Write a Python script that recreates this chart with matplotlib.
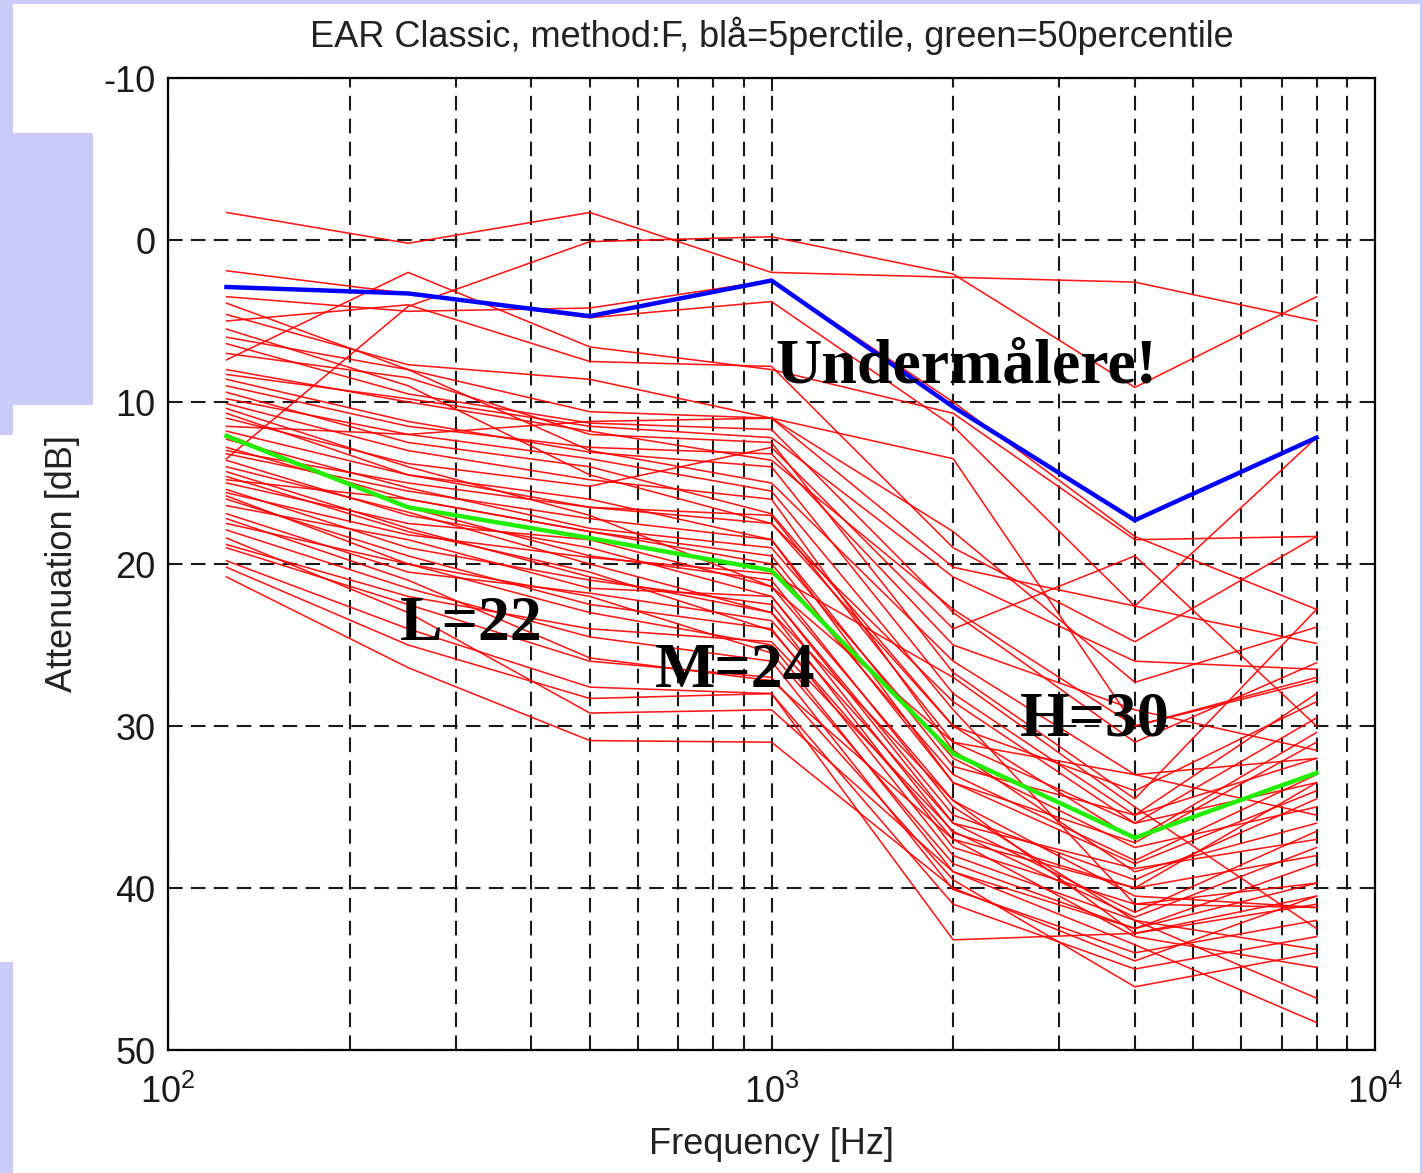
import matplotlib
matplotlib.use("Agg")
import matplotlib.pyplot as plt
from matplotlib.patches import Rectangle

plt.rcParams["axes.unicode_minus"] = False

# frekvenser (Hz)
freqs = [125, 250, 500, 1000, 2000, 4000, 8000]

# demping for hver forsøksperson, dB (rød)
subjects = [
    [-1.7, 0.2, -1.7, 2.0, 2.3, 2.6, 5.0],
    [13.5, 4.1, 0.1, -0.2, 2.1, 9.1, 3.5],
    [7.4, 2.0, 6.6, 8.0, 10.7, 18.5, 18.3],
    [1.9, 3.3, 4.8, 3.8, 11.5, 22.6, 12.2],
    [3.5, 4.4, 4.2, 2.5, 10.0, 18.3, 22.8],
    [5.0, 4.0, 7.5, 7.8, 19.0, 24.8, 18.3],
    [4.6, 7.7, 8.6, 11.0, 20.2, 22.6, 24.9],
    [6.0, 8.0, 10.6, 11.0, 18.0, 27.3, 23.9],
    [6.4, 9.5, 11.3, 11.7, 23.0, 31.0, 26.1],
    [7.0, 8.5, 12.0, 12.5, 26.7, 34.5, 22.8],
    [8.0, 10.0, 11.8, 13.6, 22.8, 30.0, 27.2],
    [8.6, 11.2, 13.1, 14.0, 28.0, 35.5, 28.0],
    [9.4, 12.5, 14.0, 16.9, 30.0, 37.0, 30.4],
    [10.1, 13.0, 14.8, 16.0, 31.5, 39.0, 36.0],
    [10.7, 14.5, 16.0, 18.5, 33.5, 38.5, 34.0],
    [11.5, 12.0, 13.5, 15.5, 29.0, 41.0, 39.7],
    [9.0, 11.5, 12.8, 13.2, 25.0, 29.0, 31.5],
    [3.9, 8.0, 13.0, 15.0, 26.0, 33.0, 32.0],
    [5.5, 9.0, 14.5, 17.5, 28.5, 36.0, 33.5],
    [8.3, 9.8, 11.5, 12.2, 20.8, 26.0, 26.5],
    [10.4, 14.0, 17.0, 21.4, 34.6, 40.5, 41.2],
    [12.3, 15.3, 17.8, 19.0, 32.0, 37.5, 35.0],
    [12.0, 16.5, 19.5, 21.0, 35.0, 42.0, 43.8],
    [12.8, 16.0, 18.0, 20.0, 33.0, 38.3, 33.0],
    [13.6, 17.0, 19.0, 22.0, 36.0, 41.5, 36.5],
    [14.0, 16.8, 20.0, 23.0, 34.6, 42.8, 40.5],
    [14.6, 18.0, 20.5, 24.1, 37.0, 43.0, 44.9],
    [15.0, 17.5, 18.5, 21.4, 31.0, 36.0, 29.5],
    [15.4, 19.0, 21.0, 22.5, 36.6, 40.0, 38.0],
    [16.0, 19.5, 22.5, 24.0, 38.0, 42.0, 46.8],
    [16.4, 18.5, 21.5, 22.0, 35.5, 39.5, 34.5],
    [13.2, 15.5, 17.2, 18.5, 32.5, 35.5, 32.0],
    [14.3, 17.8, 20.8, 23.0, 37.5, 41.0, 41.2],
    [15.8, 20.0, 23.0, 25.0, 39.0, 43.5, 48.3],
    [16.9, 20.5, 21.8, 23.5, 36.0, 38.8, 37.0],
    [13.0, 15.0, 16.5, 17.5, 30.0, 34.0, 28.5],
    [14.8, 16.0, 18.0, 19.5, 33.5, 37.2, 31.0],
    [11.8, 14.5, 16.5, 17.0, 31.0, 33.0, 35.5],
    [17.9, 21.5, 24.5, 26.0, 40.1, 44.0, 42.0],
    [17.5, 20.0, 22.0, 25.5, 38.5, 42.5, 39.7],
    [19.0, 22.5, 26.0, 27.0, 39.5, 46.1, 44.0],
    [19.8, 24.0, 27.6, 28.0, 43.2, 42.8, 41.0],
    [20.2, 25.0, 28.3, 28.0, 41.0, 45.0, 43.0],
    [20.8, 26.4, 30.9, 31.0, 40.0, 44.5, 40.5],
    [18.4, 23.0, 29.2, 29.0, 39.0, 42.5, 38.5],
    [17.2, 21.0, 25.8, 27.2, 37.0, 40.0, 33.5],
    [18.8, 22.0, 24.0, 24.8, 36.5, 41.8, 37.5],
    [9.8, 12.0, 11.2, 11.0, 13.5, 30.0, 27.0],
    [11.0, 13.8, 15.2, 12.8, 24.0, 19.5, 30.0],
    [15.6, 18.2, 19.6, 20.6, 27.0, 35.0, 42.5],
]

# persentiler
p5 = [2.9, 3.3, 4.7, 2.5, 10.3, 17.3, 12.2]
p50 = [12.1, 16.5, 18.4, 20.4, 31.7, 36.9, 32.9]

yticks = [-10, 0, 10, 20, 30, 40, 50]

fig = plt.figure(figsize=(14.23, 11.73), dpi=100)
fig.patch.set_facecolor("white")

# lilla bakgrunn fra lysbildet
lav = "#cbcbfa"
def px_rect(x0, y0, x1, y1):
    fig.add_artist(Rectangle((x0 / 1423, 1 - y1 / 1173), (x1 - x0) / 1423, (y1 - y0) / 1173,
                             transform=fig.transFigure, facecolor=lav, edgecolor="none", zorder=-5))
px_rect(0, 0, 1423, 4)
px_rect(0, 0, 13, 435)
px_rect(0, 133, 93, 405)
px_rect(0, 962, 13, 1173)
px_rect(1420, 0, 1423, 1173)

ax = fig.add_axes([168 / 1423, 1 - 1050 / 1173, (1375 - 168) / 1423, (1050 - 78) / 1173])

for s in subjects:
    ax.semilogx(freqs, s, color="red", lw=1.15, alpha=0.9)
ax.semilogx(freqs, p5, color="#0000ff", lw=3.2)
ax.semilogx(freqs, p50, color="#22ee00", lw=3.2)

ax.set_xlim(100, 10000)
ax.set_ylim(50, -10)
ax.set_yticks(yticks)

font = ["Liberation Sans", "DejaVu Sans"]
ax.grid(True, which="both", axis="x", color="#1a1a1a", linestyle=(0, (7, 4)), lw=1.5)
ax.grid(True, which="major", axis="y", color="#1a1a1a", linestyle=(0, (7, 4)), lw=1.5)
ax.tick_params(which="both", direction="in", top=True, right=True, width=1.4, colors="#1a1a1a")
ax.tick_params(which="major", length=9, labelsize=26)
ax.tick_params(axis="y", pad=9)
ax.tick_params(axis="x", pad=18)
ax.tick_params(which="minor", length=6)
for lab in ax.get_xticklabels() + ax.get_yticklabels():
    lab.set_family(font)
for sp in ax.spines.values():
    sp.set_linewidth(1.6)

ax.set_title("EAR Classic, method:F, blå=5perctile, green=50percentile",
             fontsize=26, family=font, color="#222222", pad=22)
ax.set_xlabel("Frequency [Hz]", fontsize=26, family=font, color="#222222")
ax.set_ylabel("Attenuation [dB]", fontsize=26, family=font, color="#222222")
ax.xaxis.set_label_coords(0.5, -0.079)
ax.yaxis.set_label_coords(-0.073, 0.5)

serif = dict(family="Liberation Serif", fontweight="bold", fontsize=46, color="black", va="baseline")
ax.text(1013, 8.8, "Undermålere!", **serif)
ax.text(242, 24.7, "L=22", **serif)
ax.text(641, 27.6, "M=24", **serif)
ax.text(2581, 30.6, "H=30", **serif)

fig.savefig("out.png", dpi=100)
